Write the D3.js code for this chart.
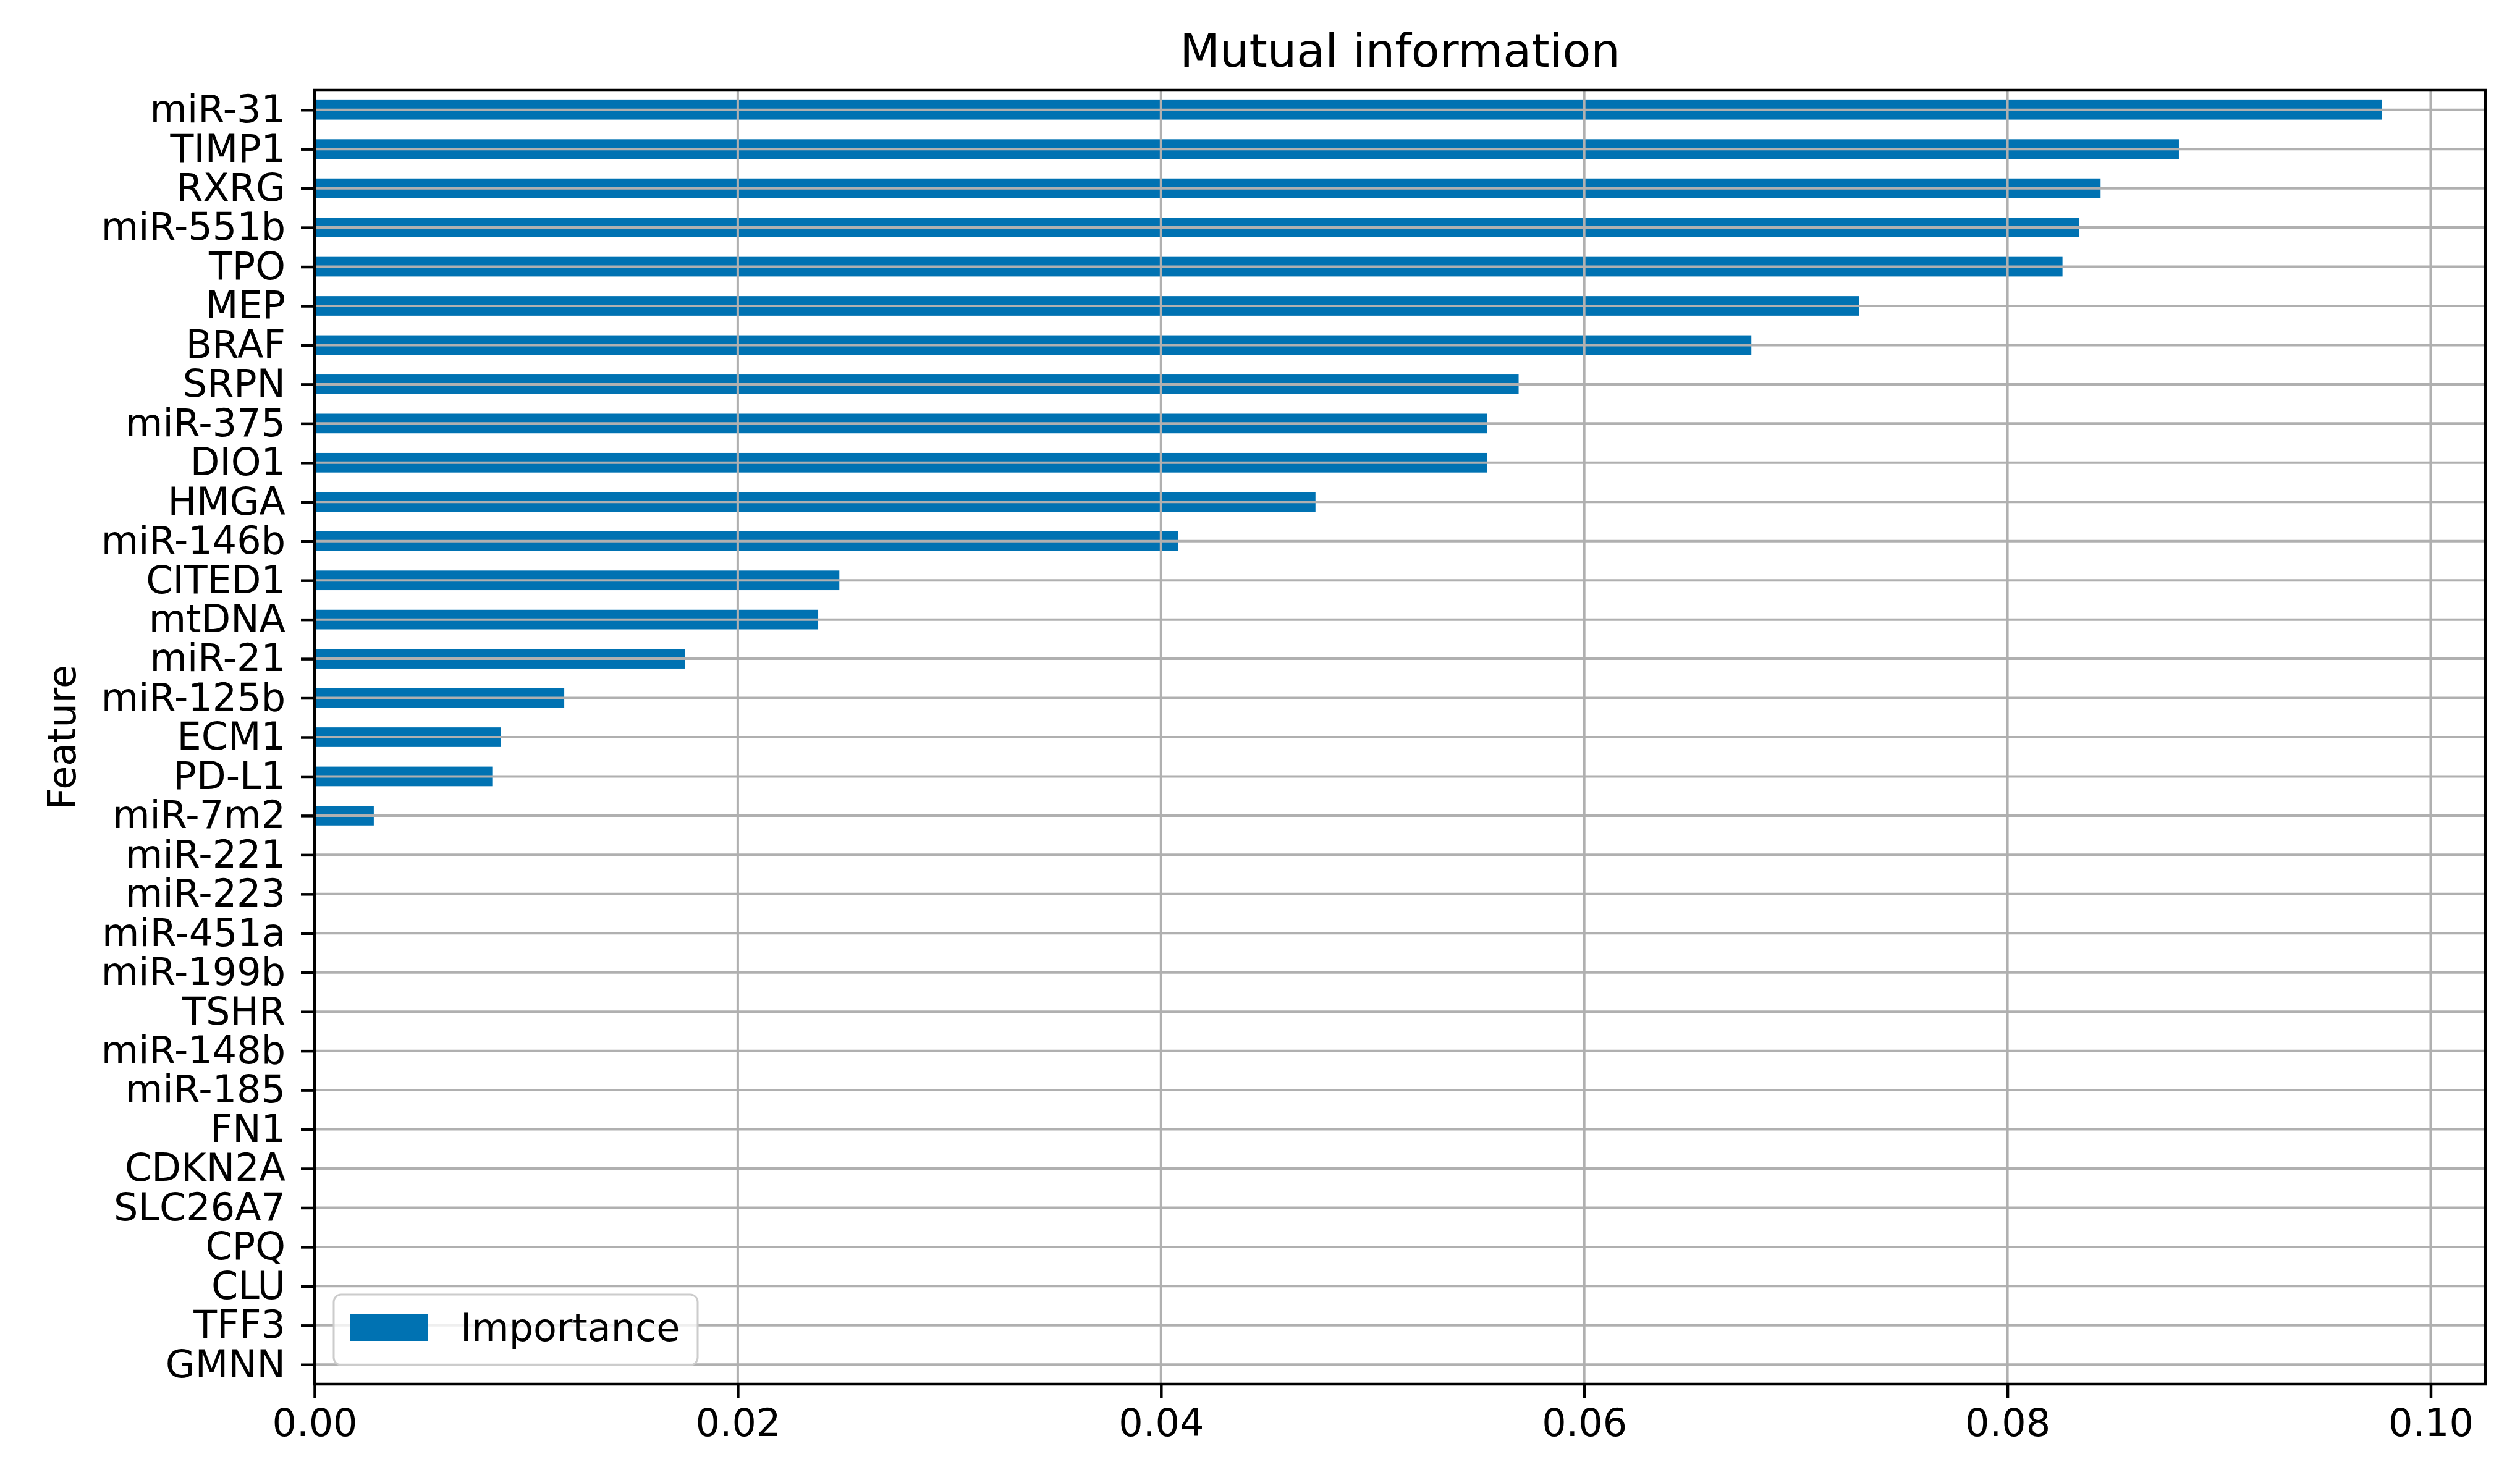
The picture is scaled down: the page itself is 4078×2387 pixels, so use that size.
<!DOCTYPE html>
<html>
<head>
<meta charset="utf-8">
<script src="https://cdn.jsdelivr.net/npm/d3@7"></script>
<style>
  html, body { margin: 0; padding: 0; background: #ffffff; }
  svg { display: block; }
  text { font-family: "DejaVu Sans", sans-serif; fill: #000; }
</style>
</head>
<body>
<svg id="chart" width="4078" height="2387"></svg>
<script>
// ---- data ----
const features = ["miR-31","TIMP1","RXRG","miR-551b","TPO","MEP","BRAF","SRPN","miR-375","DIO1",
  "HMGA","miR-146b","CITED1","mtDNA","miR-21","miR-125b","ECM1","PD-L1","miR-7m2","miR-221",
  "miR-223","miR-451a","miR-199b","TSHR","miR-148b","miR-185","FN1","CDKN2A","SLC26A7","CPQ",
  "CLU","TFF3","GMNN"];
const importance = [0.0977,0.0881,0.0844,0.0834,0.0826,0.0730,0.0679,0.0569,0.0554,0.0554,
  0.0473,0.0408,0.0248,0.0238,0.0175,0.0118,0.0088,0.0084,0.0028,0,
  0,0,0,0,0,0,0,0,0,0,
  0,0,0];
const xTicks = [0.00, 0.02, 0.04, 0.06, 0.08, 0.10];
const titleText = "Mutual information";
const yLabel = "Feature";
const seriesName = "Importance";

// ---- layout ----
const svg = d3.select("#chart");
const L = 509, R = 4022, T = 146, B = 2240;
const barColor = "#0072B2";
const gridColor = "#b0b0b0";
const fs = 62;

const data = features.map((f, i) => ({ f, v: importance[i] }));

const x = d3.scaleLinear().domain([0, d3.max(importance) * 1.05]).range([L, R]);
const y = d3.scaleBand().domain(features).range([T, B]).paddingInner(0.5).paddingOuter(0.25);

// bars
svg.append("g").selectAll("rect").data(data.filter(d => d.v > 0)).join("rect")
  .attr("x", x(0))
  .attr("y", d => y(d.f))
  .attr("width", d => x(d.v) - x(0))
  .attr("height", y.bandwidth())
  .attr("fill", barColor);

// grid (drawn above bars, as in reference)
const grid = svg.append("g");
grid.selectAll("line.v").data(xTicks).join("line")
  .attr("class", "v")
  .attr("x1", d => x(d)).attr("x2", d => x(d))
  .attr("y1", T).attr("y2", B)
  .attr("stroke", gridColor).attr("stroke-width", 4);
grid.selectAll("line.h").data(features).join("line")
  .attr("class", "h")
  .attr("x1", L).attr("x2", R)
  .attr("y1", d => y(d) + y.bandwidth() / 2).attr("y2", d => y(d) + y.bandwidth() / 2)
  .attr("stroke", gridColor).attr("stroke-width", 4);

// axes
const xAxis = d3.axisBottom(x).tickValues(xTicks).tickFormat(d3.format(".2f"))
  .tickSize(22).tickPadding(18);
const gx = svg.append("g").attr("transform", `translate(0,${B})`).call(xAxis);
gx.select(".domain").remove();
gx.selectAll(".tick line").attr("stroke", "#000").attr("stroke-width", 4.5);
gx.selectAll(".tick text").attr("font-size", fs).attr("font-family", "DejaVu Sans").attr("fill", "#000");

const yPoint = d3.scalePoint().domain(features)
  .range([y(features[0]) + y.bandwidth() / 2, y(features[features.length - 1]) + y.bandwidth() / 2]);
const yAxis = d3.axisLeft(yPoint).tickSize(22).tickPadding(25);
const gy = svg.append("g").attr("transform", `translate(${L},0)`).call(yAxis);
gy.select(".domain").remove();
gy.selectAll(".tick line").attr("stroke", "#000").attr("stroke-width", 4.5);
gy.selectAll(".tick text").attr("font-size", fs).attr("font-family", "DejaVu Sans").attr("fill", "#000");

// frame
svg.append("rect").attr("x", L).attr("y", T).attr("width", R - L).attr("height", B - T)
  .attr("fill", "none").attr("stroke", "#000").attr("stroke-width", 4.5);

// title
svg.append("text").attr("x", (L + R) / 2).attr("y", 108)
  .attr("text-anchor", "middle").attr("font-size", 75).text(titleText);

// y label
svg.append("text").attr("transform", `translate(122,${(T + B) / 2}) rotate(-90)`)
  .attr("text-anchor", "middle").attr("font-size", fs).text(yLabel);

// legend
const lg = svg.append("g");
lg.append("rect").attr("x", 540).attr("y", 2095).attr("width", 589).attr("height", 114)
  .attr("rx", 12).attr("ry", 12)
  .attr("fill", "rgba(255,255,255,0.8)").attr("stroke", "#cccccc").attr("stroke-width", 3);
lg.append("rect").attr("x", 566).attr("y", 2126).attr("width", 126).attr("height", 44)
  .attr("fill", barColor);
lg.append("text").attr("x", 745).attr("y", 2148).attr("dy", "0.35em")
  .attr("font-size", fs).text(seriesName);
</script>
</body>
</html>
